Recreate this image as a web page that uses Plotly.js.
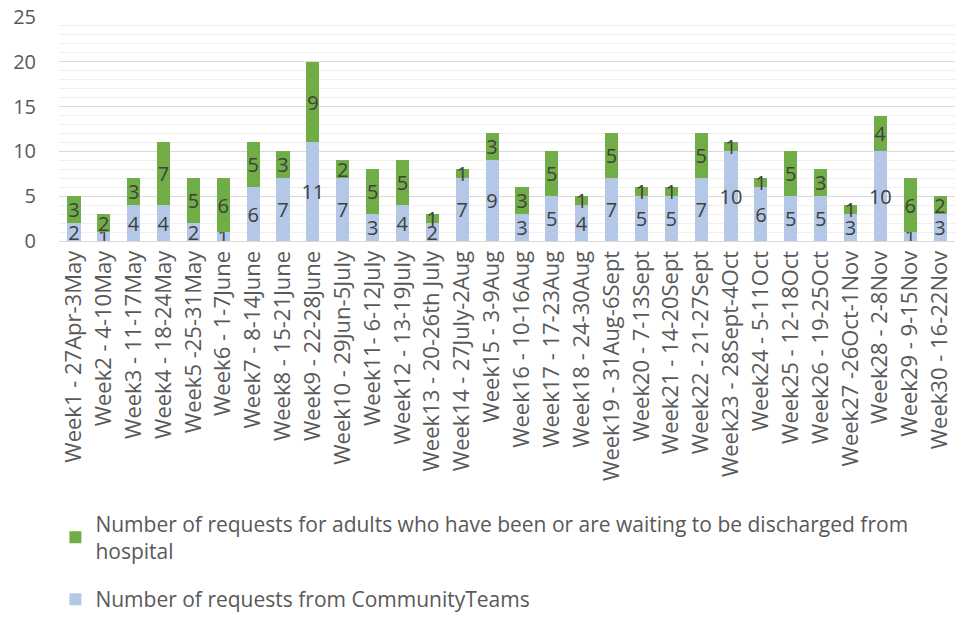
<!DOCTYPE html>
<html>
<head>
<meta charset="utf-8">
<script src="https://cdn.plot.ly/plotly-3.0.1.min.js"></script>
<style>html,body{margin:0;padding:0;background:#fff;}#chart{width:961px;height:620px;}</style>
</head>
<body>
<div id="chart"></div>
<script>
const weeks = [
  "Week1 - 27Apr-3May","Week2 - 4-10May","Week3 - 11-17May","Week4 - 18-24May","Week5 -25-31May",
  "Week6 - 1-7June","Week7 - 8-14June","Week8 - 15-21June","Week9 - 22-28June","Week10 - 29Jun-5July",
  "Week11- 6-12July","Week12 - 13-19July","Week13 - 20-26th July","Week14 - 27July-2Aug","Week15 - 3-9Aug",
  "Week16 - 10-16Aug","Week17 - 17-23Aug","Week18 - 24-30Aug","Week19 - 31Aug-6Sept","Week20 - 7-13Sept",
  "Week21 - 14-20Sept","Week22 - 21-27Sept","Week23 - 28Sept-4Oct","Week24 - 5-11Oct","Week25 - 12-18Oct",
  "Week26 - 19-25Oct","Week27 -26Oct-1Nov","Week28 - 2-8Nov","Week29 - 9-15Nov","Week30 - 16-22Nov"
];
const community = [2,1,4,4,2,1,6,7,11,7,3,4,2,7,9,3,5,4,7,5,5,7,10,6,5,5,3,10,1,3];
const hospital  = [3,2,3,7,5,6,5,3,9,2,5,5,1,1,3,3,5,1,5,1,1,5,1,1,5,3,1,4,6,2];
const communityName = "Number of requests from CommunityTeams";
const hospitalName = "Number of requests for adults who have been or are waiting to be discharged from<br>hospital";
const yTicks = [0,5,10,15,20,25];

const labelFont = {family: "Open Sans, sans-serif", size: 20, color: "#404040"};
const traces = [
  {type: "bar", x: weeks, y: community, name: communityName, legendgroup: "a", legendrank: 2,
   marker: {color: "#b4c7e7"}, text: community.map(String), textposition: "inside",
   insidetextanchor: "middle", textangle: 0, insidetextfont: labelFont, hoverinfo: "x+y"},
  {type: "bar", x: weeks, y: hospital, name: hospitalName, legendgroup: "b", legendrank: 1,
   marker: {color: "#70ad47"}, text: hospital.map(String), textposition: "inside",
   insidetextanchor: "middle", textangle: 0, insidetextfont: labelFont, hoverinfo: "x+y"}
];

const layout = {
  width: 961, height: 620,
  barmode: "stack", bargap: 0.56,
  margin: {l: 59, r: 6, t: 17, b: 379, autoexpand: false},
  paper_bgcolor: "#fff", plot_bgcolor: "#fff",
  font: {family: "Open Sans, sans-serif", color: "#595959"},
  uniformtext: {mode: "show", minsize: 20},
  xaxis: {type: "category", tickangle: -90, tickfont: {size: 22, color: "#595959"},
          showline: true, linecolor: "#d9d9d9", linewidth: 1, ticks: "", ticklen: 0,
          automargin: false},
  yaxis: {range: [0, 25], tickvals: yTicks, ticktext: yTicks.map(String),
          tickfont: {size: 20, color: "#595959"}, showgrid: true, gridcolor: "#d9d9d9",
          gridwidth: 1, zeroline: false, ticks: "", ticklabelstandoff: 22,
          minor: {dtick: 1, showgrid: true, gridcolor: "#efefef", gridwidth: 1},
          automargin: false},
  showlegend: true,
  legend: {orientation: "v", x: -0.004, xanchor: "left", y: -1.172, yanchor: "top",
           traceorder: "grouped", tracegroupgap: 18,
           font: {family: "Open Sans, sans-serif", size: 21, color: "#595959"},
           itemwidth: 30}
};

Plotly.newPlot("chart", traces, layout, {displayModeBar: false, staticPlot: true});
</script>
</body>
</html>
